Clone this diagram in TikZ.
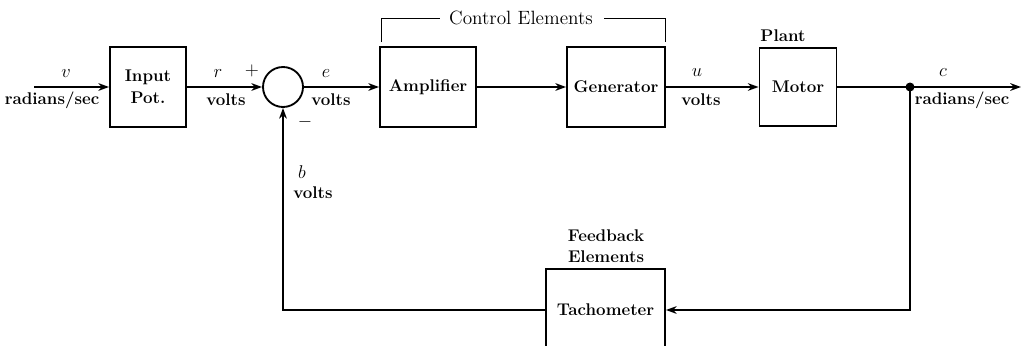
\documentclass[tikz,border=0pt]{standalone}
\usetikzlibrary{arrows.meta}
\begin{document}
\begin{tikzpicture}[x=0.65pt,y=-0.65pt,
  blk/.style={draw,line width=1.2pt,inner sep=0pt,font=\fontsize{11}{14}\selectfont\bfseries},
  arr/.style={line width=1.2pt,-{Stealth[length=7pt,width=5pt]}},
  ln/.style={line width=1.2pt},
  lbl/.style={inner sep=0pt,font=\fontsize{11}{14}\selectfont\bfseries},
  mlbl/.style={inner sep=0pt,font=\fontsize{12}{14}\selectfont}]
\useasboundingbox (0,0) rectangle (1022,345);
\clip (0,0) rectangle (1022,345);
% blocks
\node[blk,minimum width={76*0.65pt},minimum height={80*0.65pt},align=center] (inp) at (148,87) {Input\\Pot.};
\node[draw,circle,line width=1.2pt,minimum size={40*0.65pt},inner sep=0pt] (sum) at (283,87) {};
\node[blk,minimum width={96*0.65pt},minimum height={80*0.65pt}] (amp) at (428,87) {Amplifier};
\node[blk,minimum width={98*0.65pt},minimum height={80*0.65pt}] (gen) at (616,87) {Generator};
\node[blk,minimum width={77*0.65pt},minimum height={78*0.65pt}] (mot) at (798,87) {Motor};
\node[blk,minimum width={119*0.65pt},minimum height={82*0.65pt}] (tach) at (605.5,310) {Tachometer};
\coordinate (vin) at (34,87);
\coordinate (j) at (910,87);
\coordinate (out) at (1021,87);
% connectors
\draw[arr] (vin) -- (inp.west);
\draw[arr] (inp.east) -- (sum.west);
\draw[arr] (sum.east) -- (amp.west);
\draw[arr] (amp.east) -- (gen.west);
\draw[arr] (gen.east) -- (mot.west);
\draw[ln] (mot.east) -- (j);
\draw[arr] (j) -- (out);
\draw[arr] (j) |- (tach.east);
\draw[arr] (tach.west) -| (sum.south);
\fill (j) circle[radius=4.5];
% bracket
\coordinate (bl) at (381,42);
\coordinate (br) at (665,42);
\node[inner sep=0pt,font=\fontsize{12.5}{14}\selectfont] (ce) at (521,18) {Control Elements};
\draw[line width=0.6pt] (bl) -- (381,18) -- (440,18);
\draw[line width=0.6pt] (604,18) -- (665,18) -- (br);
% labels
\node[mlbl] (lv) at (66,74) {$v$};
\node[lbl] (lrs1) at (52,100) {radians/sec};
\node[mlbl] (lr) at (218,74) {$r$};
\node[inner sep=0pt,font=\large] (lp) at (252,71) {$+$};
\node[lbl] (lv1) at (226,100) {volts};
\node[inner sep=0pt,font=\large] (lm) at (305,122) {$-$};
\node[mlbl] (le) at (326,74) {$e$};
\node[lbl] (lv2) at (331,100) {volts};
\node[mlbl] (lu) at (697,73) {$u$};
\node[lbl] (lv3) at (701,100) {volts};
\node[lbl] (lpl) at (783,36) {Plant};
\node[mlbl] (lc) at (943,73) {$c$};
\node[lbl] (lrs2) at (962,100) {radians/sec};
\node[mlbl] (lb) at (302,172) {$b$};
\node[lbl] (lv4) at (313,193) {volts};
\node[lbl] (lfb) at (606,236) {Feedback};
\node[lbl] (lel) at (606,257) {Elements};
\end{tikzpicture}
\end{document}
